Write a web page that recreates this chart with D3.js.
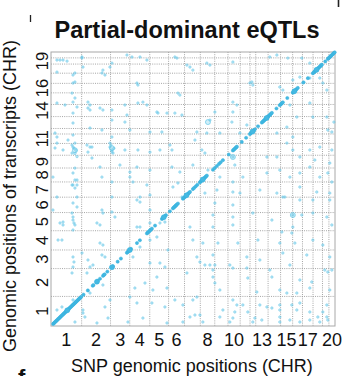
<!DOCTYPE html>
<html>
<head>
<meta charset="utf-8">
<script src="https://cdn.jsdelivr.net/npm/d3@7/dist/d3.min.js"></script>
<style>
html,body{margin:0;padding:0;background:#fff;}
svg{display:block;}
text{font-family:"Liberation Sans",Arial,Helvetica,sans-serif;fill:#111;}
</style>
</head>
<body>
<div id="chart"></div>
<script>
// ---- data ----
const chromosomes = ["1","2","3","4","5","6","7","8","9","10","11","12","13","14","15","16","17","18","19","20"];
// chromosome lengths (Mb)
const chromLengths = [282.8,266.4,177.7,184.2,173.7,147.0,145.7,133.3,122.1,112.6,90.5,52.7,114.0,115.5,111.2,90.7,97.3,87.3,59.2,56.2];
const xTickLabels = ["1","2","3","4","5","6","8","10","13","15","17","20"];
const yTickLabels = ["1","2","3","4","5","6","7","8","9","11","14","16","19"];
const title = "Partial-dominant eQTLs";
const xTitle = "SNP genomic positions (CHR)";
const yTitle = "Genomic positions of transcripts (CHR)";

// cis eQTLs: cumulative genome position (Mb), SNP and transcript co-located
const cisPositions = [20,27,34,41,48,55,62,69,76,83,90,97,104,111,118,125,132,139,146,153,160,167,174,181,188,195,202,209,216,223,230,237,244,251,258,265,272,279,
 300,340,385,392,420,426,432,452,480,488,495,520,560,566,572,615,645,700,707,714,721,738,793,820,
 885,892,899,906,913,920,931,960,1023,1030,1037,1044,1051,1060,1097,1125,1132,1139,1146,1153,1160,1171,
 1217,1224,1231,1238,1245,1252,1259,1266,1273,1282,1309,1320,1335,1350,
 1374,1381,1388,1395,1402,1409,1416,1423,1430,1438,1494,1510,1530,1550,1565,1586,1640,
 1678,1685,1692,1700,1708,1715,1760,1800,1835,1842,1849,1856,1863,1870,1881,1910,
 1945,1952,1959,1966,1973,1980,1987,1994,2001,2008,2015,2022,2029,2038,2080,
 2111,2118,2125,2132,2139,2180,2231,2238,2245,2252,2259,2266,2277,2330,2370,
 2416,2423,2430,2437,2444,2451,2458,2465,2472,2479,2486,2493,2499,2530,
 2554,2561,2568,2575,2582,2589,2596,2603,2610,2617];
// strongest cis eQTLs (larger beads on the diagonal)
const cisLarge = [150,424,562,727,1040,1250,1400,1860,1990,2245,2450];

// trans eQTLs: [SNP cumulative Mb, transcript cumulative Mb]
const transEqtls = [
[55,2543],[83,2543],[111,2543],[148,2533],[286,2562],[295,2476],[194,2227],[203,2141],[240,2094],[37,1845],[55,1807],[157,1778],[221,1749],[203,1711],[194,1654],[360,1711],[341,1663],[544,1711],[562,1683],[572,1654],[341,2084],[360,2065],[203,1348],[221,1319],[240,1396],[194,1080],[203,1013],[221,966],[203,918],[55,1233],
[286,2572],[701,2591],[747,2572],[821,2572],[885,2543],[1143,2572],[1162,2562],[1254,2495],[1282,2476],[1309,2447],[221,2419],[203,2400],[55,2428],[479,2447],[470,2419],[498,2400],[562,2514],[544,2476],[221,2333],[203,2323],[793,2323],[802,2304],[1171,2227],[1189,2208],[221,2180],[129,2113],[55,2132],[341,2141],[360,2113],[452,2084],[479,2065],[562,2065],[682,2113],[802,2132],[848,2141],[885,2113],[987,2036],[977,2046],[701,2017],[1070,2036],[1208,2017],[1143,2036],[203,1941],[203,2036],[562,1969],[682,1950],[360,1893],[470,1874],[728,1874],[913,1855],[1023,1855],[1346,1855],[203,1826],[562,1807],[1328,1778],
[194,1730],[212,1700],[230,1680],[221,1650],[240,1620],[332,1730],[378,1711],[544,1749],[553,1730],[580,1700],[562,1664],[682,1683],[802,1683],[913,1663],[1005,1683],[1097,1730],[1116,1683],[55,1749],[37,1702],[111,1683],[378,1606],
[452,1520],[221,1510],[203,1463],[636,1539],[728,1472],[793,1520],[913,1491],[1116,1520],[1189,1472],[1309,1539],
[18,1424],[221,1396],[194,1348],[240,1348],[470,1424],[562,1377],[728,1424],[756,1377],[885,1348],[1171,1367],[1125,1329],
[240,1233],[562,1233],[821,1233],[913,1252],[1208,1233],
[203,1176],[203,1042],[212,985],[203,660],[212,612],[203,564],[194,507],[203,249],
[83,985],[111,966],[18,1109],[101,822],[101,182],[55,153],[295,153],[313,86],
[424,985],[452,966],[470,1109],[479,1080],[452,793],[479,774],[470,679],[498,660],[341,631],[360,564],[387,583],[590,1042],[562,1090],
[793,1205],[821,1185],[913,1109],[821,946],[793,946],[913,985],[1005,985],[1051,994],[977,851],[913,822],[821,755],[1079,727],[756,660],[913,602],[1005,602],[1051,564],[977,468],[867,411],[774,363],[940,344],[1070,363],[728,277],[544,249],[793,220],[931,220],[1051,182],[1143,249],[1217,201],[1309,249],[1346,277],[1282,86],[1328,105],[1217,38],[1070,29],[848,76],[710,38],[526,76],[424,29],[221,38],
[1282,946],[1309,822],[1346,660],[1254,507],
[65,822],[111,994],[240,1138],[286,698],[332,507],[360,315],[479,392],[498,182],[295,124],
[1438,2514],[1466,2495],[1678,2524],[2019,2572],[2084,2591],[2185,2562],[2314,2562],[2388,2514],
[1853,2333],[1835,2323],[1862,2304],
[1678,2141],[1715,2113],[1678,2046],[1512,2046],[1466,1969],[1669,1950],[2204,2113],[2268,1998],[2388,2132],[2416,1998],[2545,1998],[2554,1874],[2591,1855],[2610,1950],
[1392,1683],[1420,1654],[1678,1616],[1696,1539],[1992,1616],[2084,1616],[2176,1749],[2231,1683],[2296,1616],[2388,1683],[2434,1587],[2480,1711],[2591,1683],[2572,1558],
[1448,1491],[1558,1424],[1678,1377],[1770,1424],[1992,1463],[2111,1491],[2204,1424],[2296,1463],[2388,1520],[2480,1424],[2554,1463],[2591,1377],
[1531,1300],[1743,1271],[1927,1300],[2084,1271],[2157,1233],[2296,1329],[2452,1281],[2572,1271],
[2231,2352],[2296,2380],[2323,2323],[2111,2285],[2139,2256],[2388,2371],[2452,2447],[2480,2371],[2508,2323],[2545,2256],
[1438,1845],[1558,1845],[1743,1845],[1807,1922],[2084,1845],[2176,1902],[2231,1807],
[1420,1271],[1678,1281],[1678,1157],[1512,1176],[2139,1233],[2296,1205],[2416,1205],[2572,1205],
[1494,1061],[1678,1042],[1862,1080],[2038,1013],[2231,1061],[2314,1061],[2416,1080],[2545,1042],
[1494,946],[1678,966],[2231,946],[2222,889],[2591,966],[2130,899],
[1401,793],[1540,793],[1724,793],[1909,822],[2111,793],[2250,793],[2416,822],[2508,774],
[1494,679],[1807,660],[1927,631],[2139,698],[2360,679],[2572,660],
[1374,612],[1420,583],[1466,583],[1512,583],[1494,535],[1650,583],[1678,554],[1807,554],[2019,535],[2204,583],[2526,535],[2554,516],[2591,535],
[1494,468],[1512,411],[1816,459],[2038,468],[2296,440],[2406,421],
[1558,344],[1899,325],[2111,344],[2176,315],[2268,315],[2388,363],[2572,344],
[1678,249],[1715,201],[1770,201],[1927,201],[1992,182],[2111,201],[2222,201],[2296,220],[2545,201],
[1586,153],[1696,134],[1816,134],[2038,172],[2111,153],[2268,153],[2388,134],[2508,134],
[1374,105],[1558,86],[1678,76],[1881,76],[2111,86],[2204,57],[2462,86],[2545,86],
[1401,38],[1650,38],[1862,38],[1945,57],[2111,38],[2296,38],[2388,57],[2480,38],[2554,57]
];
// a few stronger trans eQTLs drawn as larger circles
const largeEqtls = [[1448,1950],[562,1700],[221,1680],[1678,1616],[2231,1061]];

// ---- layout ----
const W = 350, H = 376;
const margin = {left:51, top:52, right:15, bottom:50};
const pw = W - margin.left - margin.right;   // 284
const ph = H - margin.top - margin.bottom;   // 274

const starts = [];
let acc = 0;
chromLengths.forEach(l => { starts.push(acc); acc += l; });
const genomeLen = acc;
const bounds = starts.slice(1);
const mids = chromLengths.map((l,i) => starts[i] + l/2);

const x = d3.scaleLinear().domain([0, genomeLen]).range([0, pw]);
const y = d3.scaleLinear().domain([0, genomeLen]).range([ph, 0]);

const svg = d3.select("#chart").append("svg").attr("width", W).attr("height", H);

// stray marks from neighbouring panels
svg.append("line").attr("x1",30.5).attr("x2",30.5).attr("y1",15).attr("y2",22).attr("stroke","#222").attr("stroke-width",1.3);
svg.append("line").attr("x1",338.5).attr("x2",338.5).attr("y1",0).attr("y2",7).attr("stroke","#222").attr("stroke-width",1.6);
svg.append("text").attr("x",18).attr("y",385).attr("font-size",22).attr("font-weight","bold").text("f");

const g = svg.append("g").attr("transform", `translate(${margin.left},${margin.top})`);

// gridlines at chromosome boundaries
g.append("g").selectAll("line").data(bounds).join("line")
  .attr("x1", d => x(d)).attr("x2", d => x(d)).attr("y1", 0).attr("y2", ph)
  .attr("stroke", "#8f8f8f").attr("stroke-width", 0.8).attr("stroke-dasharray", "1,1.2");
g.append("g").selectAll("line").data(bounds).join("line")
  .attr("y1", d => y(d)).attr("y2", d => y(d)).attr("x1", 0).attr("x2", pw)
  .attr("stroke", "#8f8f8f").attr("stroke-width", 0.8).attr("stroke-dasharray", "1,1.2");

// border
g.append("rect").attr("x",0).attr("y",0).attr("width",pw).attr("height",ph)
  .attr("fill","none").attr("stroke","#a8a8a8").attr("stroke-width",1);

// trans eQTLs
g.append("g").selectAll("circle").data(transEqtls).join("circle")
  .attr("cx", d => x(d[0])).attr("cy", d => y(d[1])).attr("r", 1.2)
  .attr("fill", "rgba(120,205,235,0.45)").attr("stroke", "#66c8e8").attr("stroke-width", 0.55);
g.append("g").selectAll("circle").data(largeEqtls).join("circle")
  .attr("cx", d => x(d[0])).attr("cy", d => y(d[1])).attr("r", 2.5)
  .attr("fill", "rgba(120,205,235,0.35)").attr("stroke", "#66c8e8").attr("stroke-width", 0.7);

// cis eQTLs (diagonal)
g.append("g").selectAll("circle").data(cisPositions).join("circle")
  .attr("cx", d => x(d)).attr("cy", d => y(d)).attr("r", 1.6)
  .attr("fill", "#45b9e2").attr("stroke", "#34b0dd").attr("stroke-width", 0.5);
g.append("g").selectAll("circle").data(cisLarge).join("circle")
  .attr("cx", d => x(d)).attr("cy", d => y(d)).attr("r", 2.5)
  .attr("fill", "#45b9e2").attr("stroke", "#34b0dd").attr("stroke-width", 0.5);

// x tick labels
const xTicks = xTickLabels.map(lab => ({lab, pos: mids[chromosomes.indexOf(lab)]}));
g.append("g").selectAll("text").data(xTicks).join("text")
  .attr("x", d => x(d.pos)).attr("y", ph + 20)
  .attr("text-anchor","middle").attr("font-size",18).text(d => d.lab);

// y tick labels (rotated)
const yTicks = yTickLabels.map(lab => ({lab, pos: mids[chromosomes.indexOf(lab)]}));
g.append("g").selectAll("text").data(yTicks).join("text")
  .attr("transform", d => `translate(-3,${y(d.pos)}) rotate(-90)`)
  .attr("text-anchor","middle").attr("font-size",16.5).text(d => d.lab);

// titles
svg.append("text").attr("x", 187).attr("y", 38).attr("text-anchor","middle")
  .attr("font-size",23.5).attr("font-weight","bold").text(title);
svg.append("text").attr("x", margin.left + pw/2 - 1).attr("y", 372).attr("text-anchor","middle")
  .attr("font-size",18).text(xTitle);
svg.append("text").attr("transform", `translate(15.5,196) rotate(-90)`).attr("text-anchor","middle")
  .attr("font-size",18).text(yTitle);
</script>
</body>
</html>
